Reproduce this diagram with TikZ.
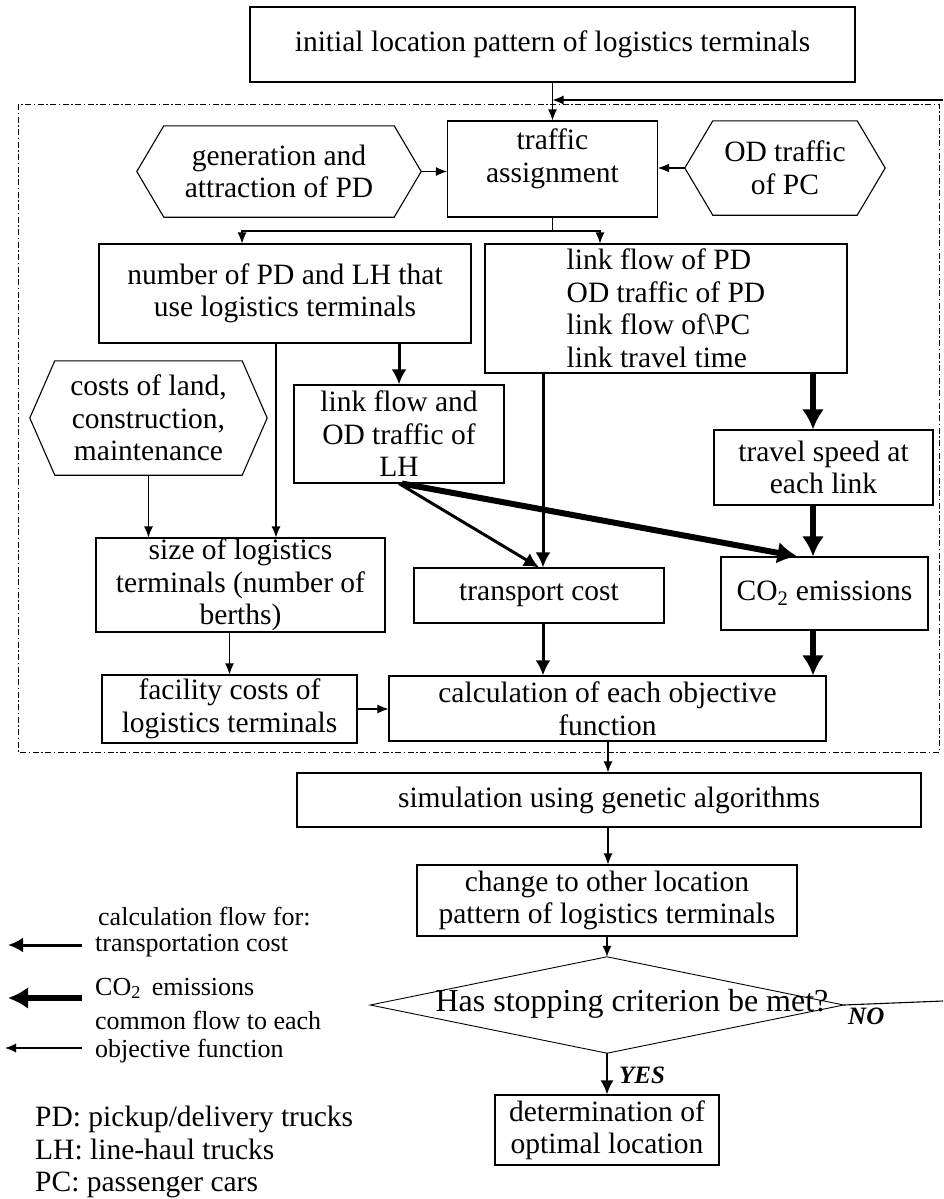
\documentclass[tikz,border=0pt]{standalone}
\usepackage{fontspec}
\setmainfont{Liberation Serif}
\usetikzlibrary{arrows.meta,calc}
\begin{document}
\begin{tikzpicture}[x=1pt,y=-1pt,
  txt/.style={font=\fontsize{29.5}{32.5}\selectfont},
  box/.style={txt,draw,line width=1.1pt,inner sep=0pt,align=center},
  hexa/.style={txt,inner sep=0pt,align=center},
  outline/.style={line width=1.1pt},
  legend/.style={font=\fontsize{26}{28}\selectfont,inner sep=0pt,align=left},
  legbig/.style={font=\fontsize{29.5}{33}\selectfont,inner sep=0pt},
  flag/.style={font=\fontsize{25}{27}\selectfont\bfseries\itshape,inner sep=0pt},
  thinln/.style={line width=1.1pt},
  thinar/.style={line width=1.1pt,-{Latex[length=11pt,width=9pt]}},
  medar/.style={line width=3pt,-{Latex[length=15pt,width=15pt]}},
  thickar/.style={line width=6pt,-{Latex[length=20pt,width=22pt]}},
  frame/.style={line width=1pt,dash pattern=on 6pt off 2.5pt on 1.5pt off 2.5pt}
  ]
\useasboundingbox (0,0) rectangle (943,1199);

% dash-dot frame
\draw[frame] (18,104) rectangle (939,752);

% nodes
\node[box,minimum width=605pt,minimum height=75pt] (top) at (552.5,44.5) {initial location pattern of logistics terminals};
\node[box,minimum width=210pt,minimum height=96pt] (traf) at (552.5,169) {traffic\\assignment\\[-6pt]~};
\node[hexa,minimum width=284pt,minimum height=91pt] (gen) at (279,171.5) {generation and\\attraction of PD};
\draw[outline] (gen.west) -- ([xshift=27pt]gen.north west) -- ([xshift=-27pt]gen.north east) -- (gen.east) -- ([xshift=-27pt]gen.south east) -- ([xshift=27pt]gen.south west) -- cycle;
\node[hexa,minimum width=200pt,minimum height=94pt] (od) at (785,168) {OD traffic\\of PC};
\draw[outline] (od.west) -- ([xshift=28pt]od.north west) -- ([xshift=-28pt]od.north east) -- (od.east) -- ([xshift=-28pt]od.south east) -- ([xshift=28pt]od.south west) -- cycle;
\node[box,minimum width=372pt,minimum height=99pt] (num) at (285,293.5) {number of PD and LH that\\use logistics terminals};
\node[box,align=left,minimum width=362pt,minimum height=129pt] (link) at (666,308.5) {link flow of PD\\OD traffic of PD\\link flow of\textbackslash PC\\link travel time};
\node[hexa,minimum width=237pt,minimum height=114pt] (costs) at (148.5,418) {costs of land,\\construction,\\maintenance};
\draw[outline] (costs.west) -- ([xshift=25pt]costs.north west) -- ([xshift=-25pt]costs.north east) -- (costs.east) -- ([xshift=-25pt]costs.south east) -- ([xshift=25pt]costs.south west) -- cycle;
\node[box,minimum width=210pt,minimum height=98pt] (lh) at (399,434) {link flow and\\OD traffic of\\LH};
\node[box,minimum width=219pt,minimum height=75pt] (travel) at (823.5,467.5) {travel speed at\\each link};
\node[box,minimum width=289pt,minimum height=94pt] (size) at (240.5,585) {size of logistics\\terminals (number of\\berths)};
\node[box,minimum width=250pt,minimum height=55pt] (trans) at (539,595.5) {transport cost};
\node[box,minimum width=207pt,minimum height=73pt] (co2) at (824.5,593.5) {CO\textsubscript{2} emissions};
\node[box,minimum width=255pt,minimum height=68pt] (fac) at (229.5,709) {facility costs of\\logistics terminals};
\node[box,minimum width=437pt,minimum height=65pt] (calc) at (607.5,708.5) {calculation of each objective\\function};
\node[box,minimum width=624pt,minimum height=54pt] (sim) at (609,800) {simulation using genetic algorithms};
\node[box,minimum width=380pt,minimum height=71pt] (chg) at (607,900.5) {change to other location\\pattern of logistics terminals};
\node[inner sep=0pt,minimum width=473pt,minimum height=96pt] (dec) at (607,1005) {};
\draw[outline,line width=0.9pt] (dec.north) -- (dec.east) -- (dec.south) -- (dec.west) -- cycle;
\node[font=\fontsize{32}{34}\selectfont,inner sep=0pt] (dectxt) at (632,1004) {Has stopping criterion be met?};
\node[box,minimum width=224pt,minimum height=70pt] (det) at (607,1130) {determination of\\optimal location};

% helper columns
\coordinate (c276) at (276,0);
\coordinate (c543) at (543,0);
\coordinate (c813) at (813,0);
\coordinate (c608) at (608,0);
\coordinate (brL) at (242,231);
\coordinate (brR) at (600,231);
\coordinate (fbt) at (943,100);
\coordinate (fbr) at (943,1001);

% connectors
\draw[thinar] (top.south) -- (top.south |- traf.north);
\draw[thinar] (fbt) -- (fbt -| top.south);
\draw[thinar] (gen.east) -- (gen.east -| traf.west);
\draw[thinar] (od.west) -- (od.west -| traf.east);
\draw[thinln] (traf.south) -- (traf.south |- brL);
\draw[thinar] (traf.south |- brL) -- (brL) -- (brL |- num.north);
\draw[thinar] (traf.south |- brR) -- (brR) -- (brR |- link.north);
\draw[medar] (num.south -| lh.north) -- (lh.north);
\draw[thinar] (num.south -| c276) -- (size.north -| c276);
\draw[thinar] (costs.south) -- (costs.south |- size.north);
\draw[medar] (link.south -| c543) -- (trans.north -| c543);
\draw[thickar] (link.south -| c813) -- (travel.north -| c813);
\draw[thickar] (travel.south -| c813) -- (co2.north -| c813);
\draw[medar] (lh.south) -- (trans.north);
\draw[thickar] ([xshift=3pt]lh.south) -- ([xshift=-27pt]co2.north);
\draw[medar] (trans.south -| c543) -- (calc.north -| c543);
\draw[thickar] (co2.south -| c813) -- (calc.north -| c813);
\draw[thinar] (size.south -| fac.north) -- (fac.north);
\draw[thinar] (fac.east) -- (fac.east -| calc.west);
\draw[thinar] (calc.south -| c608) -- (sim.north -| c608);
\draw[thinar] (sim.south -| c608) -- (chg.north -| c608);
\draw[thinar] (chg.south) -- (dec.north);
\draw[line width=2.2pt,-{Latex[length=14pt,width=13pt]}] (dec.south) -- (det.north);
\node[flag,anchor=west] (yes) at (619,1075) {YES};
\draw[thinln] (dec.east) -- (fbr);
\node[flag,anchor=west] (no) at (848,1016) {NO};

% legend
\node[legend,anchor=base west] (lg0) at (98,925) {calculation flow for:};
\node[legend,anchor=base west] (lg1) at (95,951) {transportation cost};
\coordinate (l1s) at (82,945);
\coordinate (l1e) at (8,945);
\draw[medar] (l1s) -- (l1e);
\node[legend,anchor=base west] (lg2) at (95,995) {CO\textsubscript{2}\, emissions};
\coordinate (l2s) at (82,998);
\coordinate (l2e) at (8,998);
\draw[thickar] (l2s) -- (l2e);
\node[legend,anchor=north west] (lg3) at (95,1011) {common flow to each\\objective function};
\coordinate (l3s) at (82,1048);
\coordinate (l3e) at (5,1048);
\draw[thinar] (l3s) -- (l3e);
\node[legbig,anchor=base west] (pd) at (35,1126) {PD: pickup/delivery trucks};
\node[legbig,anchor=base west] (lhl) at (35,1159) {LH: line-haul trucks};
\node[legbig,anchor=base west] (pc) at (35,1191) {PC: passenger cars};
\end{tikzpicture}
\end{document}
